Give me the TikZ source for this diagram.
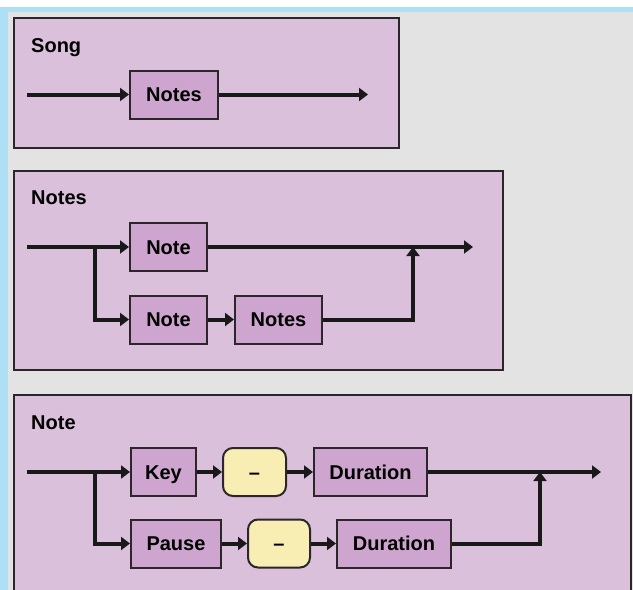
\documentclass[tikz,border=0pt]{standalone}
\usepackage{fontspec}
\setmainfont{Liberation Sans}
\usetikzlibrary{arrows.meta}

\definecolor{pagegray}{HTML}{E3E3E3}
\definecolor{edgeblue}{HTML}{AEDFF4}
\definecolor{framefill}{HTML}{DBC0DC}
\definecolor{rulefill}{HTML}{CDA5CE}
\definecolor{termfill}{HTML}{F8EEB3}
\definecolor{inkline}{HTML}{2A262A}

\tikzset{
  diagramframe/.style={draw=inkline, line width=2.4pt, fill=framefill,
    anchor=north west, inner sep=0pt},
  frametitle/.style={anchor=base west, inner sep=0pt,
    font=\fontsize{20}{24}\selectfont\bfseries},
  rulebox/.style={draw=inkline, line width=2pt, fill=rulefill,
    minimum height=48pt, inner sep=0pt, text height=14.3pt, text depth=0pt,
    font=\fontsize{20}{24}\selectfont\bfseries},
  termbox/.style={rulebox, fill=termfill, rounded corners=10pt},
  conn/.style={draw=black!90, line width=4pt,
    -{Triangle[length=9pt,width=13pt]}},
  wire/.style={draw=black!90, line width=4pt}
}

\begin{document}
\begin{tikzpicture}[x=1pt,y=-1pt]
  \useasboundingbox (0,0) rectangle (633,590);
  \begin{scope}
    \clip (0,0) rectangle (633,590);
    % page background and blue window edges
    \fill[white] (0,0) rectangle (633,590);
    \fill[pagegray] (8,12) rectangle (633,590);
    \fill[edgeblue] (0,7) rectangle (633,12);
    \fill[edgeblue] (0,7) rectangle (8,590);

    % ---------- Song ----------
    \node[diagramframe, minimum width=385pt, minimum height=130pt] (songframe) at (13,17) {};
    \node[frametitle] (songtitle) at (31,52) {Song};
    \node[rulebox, minimum width=88pt] (songnotes) at (174,94.5) {Notes};
    \coordinate (songin) at (27,94.5);
    \coordinate (songout) at (368,94.5);
    \draw[conn] (songin) -- (songnotes.west);
    \draw[conn] (songnotes.east) -- (songout);

    % ---------- Notes ----------
    \node[diagramframe, minimum width=489pt, minimum height=199pt] (notesframe) at (13,170) {};
    \node[frametitle] (notestitle) at (31,204) {Notes};
    \node[rulebox, minimum width=77pt] (notea) at (168.5,247) {Note};
    \node[rulebox, minimum width=77pt] (noteb) at (168.5,319.5) {Note};
    \node[rulebox, minimum width=87pt] (notesc) at (278.5,319.5) {Notes};
    \coordinate (notesin) at (27,247);
    \coordinate (notesfork) at (95,247);
    \coordinate (notesjoin) at (413,247);
    \coordinate (notesout) at (473,247);
    \draw[conn] (notesin) -- (notea.west);
    \draw[conn] (notesfork) |- (noteb.west);
    \draw[conn] (noteb.east) -- (notesc.west);
    \draw[wire] (notea.east) -- (notesjoin);
    \draw[conn] (notesjoin) -- (notesout);
    \draw[conn] (notesc.east) -| (notesjoin);

    % ---------- Note ----------
    \node[diagramframe, minimum width=617pt, minimum height=230pt] (noteframe) at (13,394) {};
    \node[frametitle] (notetitle) at (31,429) {Note};
    \node[rulebox, minimum width=65pt] (key) at (163.5,472) {Key};
    \node[termbox, minimum width=63pt] (sepa) at (254.5,472) {–};
    \node[rulebox, minimum width=113pt] (dura) at (370.5,472) {Duration};
    \node[rulebox, minimum width=90pt] (pause) at (176,543.5) {Pause};
    \node[termbox, minimum width=62pt] (sepb) at (279,543.5) {–};
    \node[rulebox, minimum width=114pt] (durb) at (394,543.5) {Duration};
    \coordinate (notein) at (27,472);
    \coordinate (notefork) at (95,472);
    \coordinate (notejoin) at (540,472);
    \coordinate (noteout) at (601,472);
    \draw[conn] (notein) -- (key.west);
    \draw[conn] (notefork) |- (pause.west);
    \draw[conn] (key.east) -- (sepa.west);
    \draw[conn] (sepa.east) -- (dura.west);
    \draw[conn] (pause.east) -- (sepb.west);
    \draw[conn] (sepb.east) -- (durb.west);
    \draw[wire] (dura.east) -- (notejoin);
    \draw[conn] (notejoin) -- (noteout);
    \draw[conn] (durb.east) -| (notejoin);
  \end{scope}
\end{tikzpicture}
\end{document}
